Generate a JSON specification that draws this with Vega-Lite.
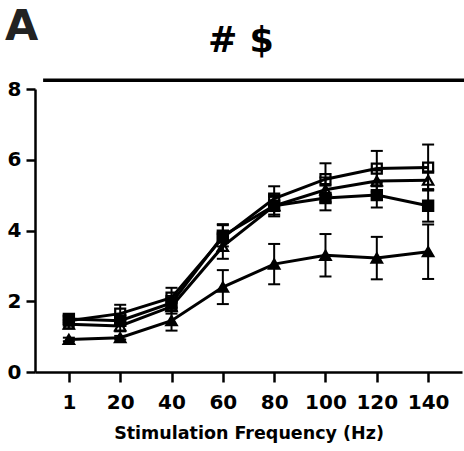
{
  "$schema": "https://vega.github.io/schema/vega-lite/v6.json",
  "width": 427,
  "height": 283,
  "autosize": {"type": "none"},
  "padding": {"left": 35, "top": 89, "right": 2, "bottom": 79},
  "background": "white",
  "config": {
    "view": {"stroke": null},
    "font": "DejaVu Sans",
    "axis": {
      "domainColor": "black", "domainWidth": 2.5, "tickColor": "black", "tickWidth": 2.5,
      "labelFont": "DejaVu Sans", "labelFontWeight": "bold", "labelColor": "black",
      "titleFont": "DejaVu Sans", "titleFontWeight": "bold", "titleColor": "black", "grid": false
    }
  },
  "datasets": {
    "series": [
      {"freq": "1", "group": "open square", "mean": 1.45, "sem": 0.12},
      {"freq": "20", "group": "open square", "mean": 1.65, "sem": 0.25},
      {"freq": "40", "group": "open square", "mean": 2.1, "sem": 0.28},
      {"freq": "60", "group": "open square", "mean": 3.8, "sem": 0.38},
      {"freq": "80", "group": "open square", "mean": 4.9, "sem": 0.35},
      {"freq": "100", "group": "open square", "mean": 5.45, "sem": 0.45},
      {"freq": "120", "group": "open square", "mean": 5.75, "sem": 0.5},
      {"freq": "140", "group": "open square", "mean": 5.78, "sem": 0.65},
      {"freq": "1", "group": "filled square", "mean": 1.5, "sem": 0.1},
      {"freq": "20", "group": "filled square", "mean": 1.45, "sem": 0.15},
      {"freq": "40", "group": "filled square", "mean": 1.95, "sem": 0.2},
      {"freq": "60", "group": "filled square", "mean": 3.85, "sem": 0.3},
      {"freq": "80", "group": "filled square", "mean": 4.7, "sem": 0.25},
      {"freq": "100", "group": "filled square", "mean": 4.92, "sem": 0.35},
      {"freq": "120", "group": "filled square", "mean": 5.0, "sem": 0.35},
      {"freq": "140", "group": "filled square", "mean": 4.7, "sem": 0.45},
      {"freq": "1", "group": "open triangle", "mean": 1.35, "sem": 0.12},
      {"freq": "20", "group": "open triangle", "mean": 1.3, "sem": 0.15},
      {"freq": "40", "group": "open triangle", "mean": 1.85, "sem": 0.2},
      {"freq": "60", "group": "open triangle", "mean": 3.55, "sem": 0.35},
      {"freq": "80", "group": "open triangle", "mean": 4.7, "sem": 0.3},
      {"freq": "100", "group": "open triangle", "mean": 5.15, "sem": 0.35},
      {"freq": "120", "group": "open triangle", "mean": 5.4, "sem": 0.3},
      {"freq": "140", "group": "open triangle", "mean": 5.42, "sem": 0.25},
      {"freq": "1", "group": "filled triangle", "mean": 0.92, "sem": 0.05},
      {"freq": "20", "group": "filled triangle", "mean": 0.97, "sem": 0.05},
      {"freq": "40", "group": "filled triangle", "mean": 1.45, "sem": 0.28},
      {"freq": "60", "group": "filled triangle", "mean": 2.4, "sem": 0.48},
      {"freq": "80", "group": "filled triangle", "mean": 3.05, "sem": 0.57},
      {"freq": "100", "group": "filled triangle", "mean": 3.3, "sem": 0.6},
      {"freq": "120", "group": "filled triangle", "mean": 3.22, "sem": 0.6},
      {"freq": "140", "group": "filled triangle", "mean": 3.4, "sem": 0.77}
    ],
    "decor": [
      {"kind": "bar", "x": 0.019, "x2": 1.01, "y": 8.25},
      {"kind": "sig", "x": 0.482, "y": 9.04, "label": "# $"},
      {"kind": "panel", "x": -0.07, "y": 9.38, "label": "A"}
    ]
  },
  "layer": [
    {
      "data": {"name": "series"},
      "transform": [
        {"calculate": "datum.mean - datum.sem", "as": "lo"},
        {"calculate": "datum.mean + datum.sem", "as": "hi"}
      ],
      "encoding": {
        "x": {
          "field": "freq", "type": "ordinal",
          "sort": ["1", "20", "40", "60", "80", "100", "120", "140"],
          "scale": {"type": "point", "padding": 0.66},
          "axis": {
            "title": "Stimulation Frequency (Hz)", "labelAngle": 0, "labelFontSize": 20,
            "titleFontSize": 17.5, "tickSize": 10, "labelPadding": 10, "titlePadding": 12
          }
        }
      },
      "layer": [
        {
          "mark": {"type": "line", "color": "black", "strokeWidth": 3},
          "encoding": {
            "y": {
              "field": "mean", "type": "quantitative",
              "scale": {"domain": [0, 8], "nice": false},
              "axis": {"title": null, "values": [0, 2, 4, 6, 8], "labelFontSize": 20, "tickSize": 9, "labelPadding": 5}
            },
            "detail": {"field": "group"}
          }
        },
        {
          "mark": {"type": "rule", "color": "black", "strokeWidth": 2},
          "encoding": {"y": {"field": "lo", "type": "quantitative"}, "y2": {"field": "hi"}}
        },
        {
          "mark": {"type": "tick", "color": "black", "orient": "horizontal", "size": 12, "thickness": 2, "opacity": 1},
          "encoding": {"y": {"field": "lo", "type": "quantitative"}}
        },
        {
          "mark": {"type": "tick", "color": "black", "orient": "horizontal", "size": 12, "thickness": 2, "opacity": 1},
          "encoding": {"y": {"field": "hi", "type": "quantitative"}}
        },
        {
          "mark": {"type": "point", "filled": true, "stroke": "black", "strokeWidth": 2.2, "opacity": 1},
          "encoding": {
            "y": {"field": "mean", "type": "quantitative"},
            "shape": {
              "field": "group", "type": "nominal",
              "scale": {"domain": ["open square", "filled square", "open triangle", "filled triangle"], "range": ["square", "square", "triangle-up", "triangle-up"]},
              "legend": null
            },
            "fill": {
              "field": "group", "type": "nominal",
              "scale": {"domain": ["open square", "filled square", "open triangle", "filled triangle"], "range": ["transparent", "black", "transparent", "black"]},
              "legend": null
            },
            "size": {
              "field": "group", "type": "nominal",
              "scale": {"domain": ["open square", "filled square", "open triangle", "filled triangle"], "range": [100, 110, 160, 140]},
              "legend": null
            }
          }
        }
      ]
    },
    {
      "data": {"name": "decor"},
      "encoding": {
        "x": {"field": "x", "type": "quantitative", "scale": {"domain": [0, 1], "nice": false, "zero": false}, "axis": null},
        "y": {"field": "y", "type": "quantitative"}
      },
      "layer": [
        {
          "transform": [{"filter": "datum.kind == 'bar'"}],
          "mark": {"type": "rule", "color": "black", "strokeWidth": 3.5, "clip": false},
          "encoding": {"x2": {"field": "x2"}}
        },
        {
          "transform": [{"filter": "datum.kind == 'sig'"}],
          "mark": {"type": "text", "font": "DejaVu Sans", "fontWeight": "bold", "fontSize": 35, "align": "center", "baseline": "alphabetic", "color": "black"},
          "encoding": {"text": {"field": "label"}}
        },
        {
          "transform": [{"filter": "datum.kind == 'panel'"}],
          "mark": {"type": "text", "font": "DejaVu Sans", "fontWeight": "bold", "fontSize": 43, "align": "left", "baseline": "alphabetic", "color": "#222222"},
          "encoding": {"text": {"field": "label"}}
        }
      ]
    }
  ],
  "resolve": {"scale": {"x": "independent", "fill": "independent", "shape": "independent", "size": "independent"}}
}
